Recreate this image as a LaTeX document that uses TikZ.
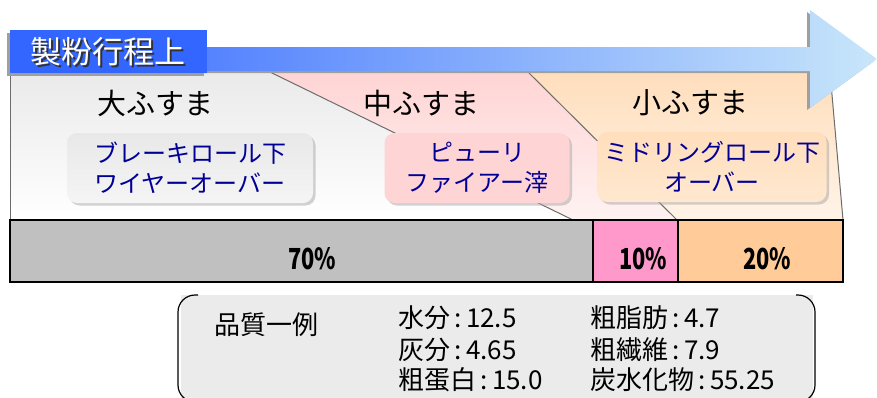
\documentclass[tikz,border=0pt]{standalone}
\usepackage{fontspec}
\setmainfont{Noto Sans CJK JP}
\newfontfamily\narrowfont[FakeStretch=0.75]{Noto Sans CJK JP}
\usetikzlibrary{positioning, shadows}
\definecolor{flowblue}{RGB}{51,102,255}
\definecolor{flowsky}{RGB}{200,230,250}
\definecolor{navytext}{RGB}{0,0,150}
\definecolor{bigzone}{RGB}{234,234,234}
\definecolor{midzone}{RGB}{255,212,212}
\definecolor{smallzone}{RGB}{255,222,188}
\definecolor{bargray}{RGB}{192,192,192}
\definecolor{barpink}{RGB}{255,153,204}
\definecolor{barpeach}{RGB}{255,204,153}
\definecolor{qualgray}{RGB}{235,235,235}

\begin{document}
\begin{tikzpicture}[x=1pt, y=-1pt,
  zonelabel/.style={font=\fontsize{29}{30}\selectfont, text=black},
  fluxbox/.style={rectangle, rounded corners=10pt, minimum height=70pt, align=center,
    text=navytext, font=\fontsize{24}{30}\selectfont, inner sep=2pt,
    drop shadow={shadow xshift=2.5pt, shadow yshift=-2.5pt, fill=gray!70}},
  barseg/.style={rectangle, draw=black, line width=1.2pt, minimum height=62pt, inner sep=0pt},
  pct/.style={font=\narrowfont\bfseries\fontsize{29}{30}\selectfont},
  qual/.style={anchor=west, inner sep=0pt, font=\fontsize{26}{28}\selectfont},
  zoneline/.style={draw=gray!85!black, line width=1pt}
]
\useasboundingbox (0,0) rectangle (877,397);

% zones behind the labels
\shade[top color=bigzone, bottom color=white] (10,72) -- (270,72) -- (573,220) -- (10,220) -- cycle;
\shade[top color=midzone, bottom color=midzone!30] (270,72) -- (528,72) -- (677,220) -- (573,220) -- cycle;
\shade[top color=smallzone, bottom color=smallzone!35] (528,72) -- (830,72) -- (843,220) -- (677,220) -- cycle;
\draw[zoneline] (10,30) -- (10,220);
\draw[zoneline] (270,72) -- (573,220);
\draw[zoneline] (528,72) -- (677,220);
\draw[zoneline] (830,72) -- (843,220);

% process arrow
\fill[gray!75] (7,49) -- (807,49) -- (807,12) -- (874,61) -- (807,110) -- (807,73) -- (7,73) -- cycle;
\shade[left color=flowblue, right color=flowsky] (10,47) -- (810,47) -- (810,10) -- (877,59) -- (810,108) -- (810,71) -- (10,71) -- cycle;
\fill[gray!75] (7,33) rectangle (204,76);
\fill[flowblue] (10,30) rectangle (207,73);
\node[text=black!80, font=\fontsize{31}{32}\selectfont] (titleshade) at (109.5,53.5) {製粉行程上};
\node[text=white, font=\fontsize{31}{32}\selectfont] (title) at (108,52) {製粉行程上};

% bran names
\node[zonelabel] (big) at (155,103) {大ふすま};
\node[zonelabel] (mid) at (421,103) {中ふすま};
\node[zonelabel] (small) at (690,103) {小ふすま};

\node[fluxbox, minimum width=246pt, top color=gray!18, bottom color=gray!8] (brk) at (190,168) {ブレーキロール下\\ワイヤーオーバー};
\node[fluxbox, minimum width=185pt, fill=midzone] (pur) at (477,168) {ピューリ\\ファイアー滓};
\node[fluxbox, minimum width=229pt, top color=smallzone, bottom color=smallzone!70] (mdl) at (712,167) {ミドリングロール下\\オーバー};

% yield bar
\node[barseg, fill=bargray, minimum width=583pt] (seg70) at (301.5,251) {};
\node[barseg, fill=barpink, minimum width=85pt] (seg10) at (635.5,251) {};
\node[barseg, fill=barpeach, minimum width=165pt] (seg20) at (760.5,251) {};
\node[pct] (p70) at (312,259) {70\%};
\node[pct] (p10) at (643,259) {10\%};
\node[pct] (p20) at (767,259) {20\%};

% quality example
\fill[qualgray] (181,295) rectangle (813,402);
\draw[line width=1.2pt, rounded corners=17pt] (198,295) -- (178,295) -- (178,402) -- (198,402);
\draw[line width=1.2pt, rounded corners=17pt] (796,295) -- (815,295) -- (815,402) -- (796,402);
\node[font=\fontsize{26}{28}\selectfont] (qtitle) at (266,325) {品質一例};
\node[qual] (water) at (398,318) {水分\,:\,12.5};
\node[qual] (ash) at (398,350) {灰分\,:\,4.65};
\node[qual] (prot) at (398,380) {粗蛋白\,:\,15.0};
\node[qual] (fat) at (590,318) {粗脂肪\,:\,4.7};
\node[qual] (fib) at (590,350) {粗繊維\,:\,7.9};
\node[qual] (carb) at (590,380) {炭水化物\,:\,55.25};
\end{tikzpicture}
\end{document}
